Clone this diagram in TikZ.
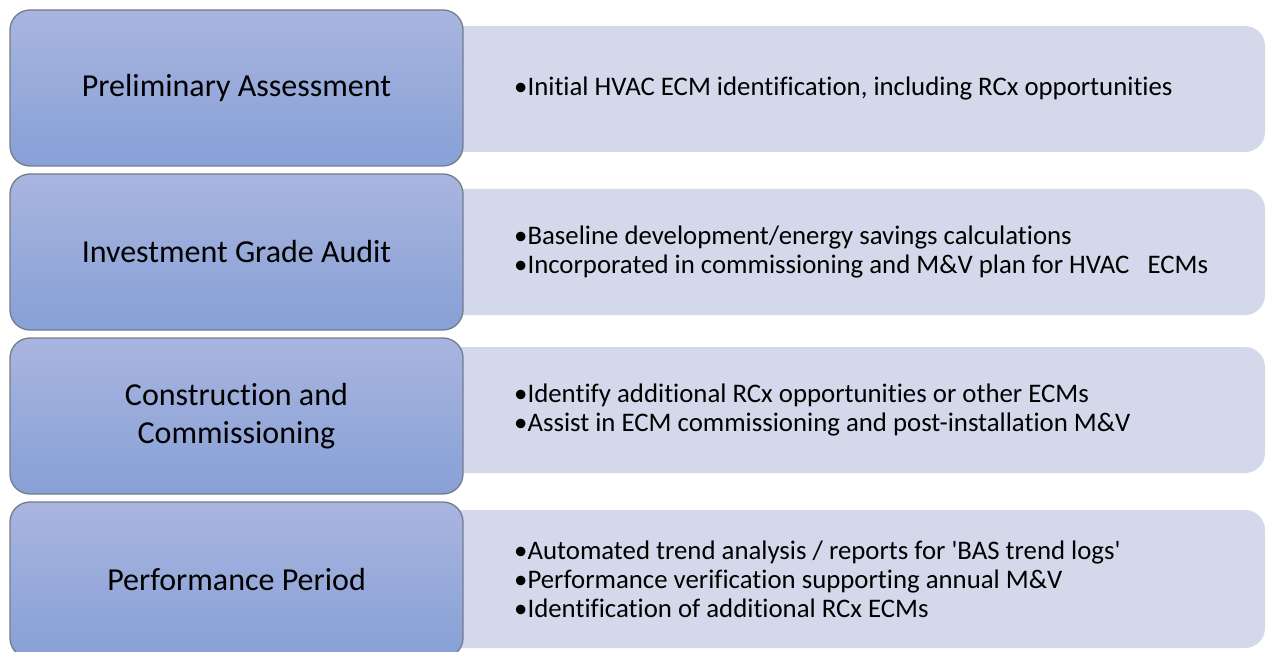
\documentclass[tikz,border=0pt]{standalone}
\usepackage{fontspec}
\setmainfont{Carlito}[Ligatures={NoCommon}]
\definecolor{lefttop}{HTML}{A9B5DF}
\definecolor{leftbot}{HTML}{87A0D6}
\definecolor{leftedge}{HTML}{747C8C}
\definecolor{rightfill}{HTML}{D3D9EB}
\tikzset{
  stagebox/.style={rectangle, rounded corners=20pt, draw=leftedge, line width=1.3pt,
    top color=lefttop, bottom color=leftbot, minimum width=453pt, minimum height=156pt,
    inner sep=0pt, align=center, font=\fontsize{32}{38}\selectfont},
  detailbox/.style={rectangle, rounded corners=20pt, fill=rightfill, draw=none,
    minimum width=825pt, minimum height=126pt, inner sep=0pt},
  detailtext/.style={anchor=west, align=left, inner sep=0pt, font=\fontsize{26.8}{29}\selectfont},
}
\begin{document}
\begin{tikzpicture}[x=1pt,y=-1pt]
\useasboundingbox (0,0) rectangle (1266,652);
% right detail boxes (behind)
\node[detailbox] (d1) at (852.5,89) {};
\node[detailbox] (d2) at (852.5,252) {};
\node[detailbox] (d3) at (852.5,410) {};
\node[detailbox, minimum height=138pt] (d4) at (852.5,579) {};
% left stage boxes
\node[stagebox] (s1) at (236.5,88) {Preliminary Assessment};
\node[stagebox] (s2) at (236.5,252) {Investment Grade Audit};
\node[stagebox] (s3) at (236.5,416) {Construction and\\Commissioning};
\node[stagebox] (s4) at (236.5,580) {Performance Period};
% texts
\node[detailtext] (t1) at (514,89) {•Initial HVAC ECM identification, including RCx opportunities};
\node[detailtext] (t2) at (514,252) {•Baseline development/energy savings calculations\\•Incorporated in commissioning and M\&V plan for HVAC\ \ \ ECMs};
\node[detailtext] (t3) at (514,410) {•Identify additional RCx opportunities or other ECMs\\•Assist in ECM commissioning and post-installation M\&V};
\node[detailtext] (t4) at (514,579) {•Automated trend analysis / reports for \textquotesingle BAS trend logs\textquotesingle\\•Performance verification supporting annual M\&V\\•Identification of additional RCx ECMs};
\end{tikzpicture}
\end{document}
